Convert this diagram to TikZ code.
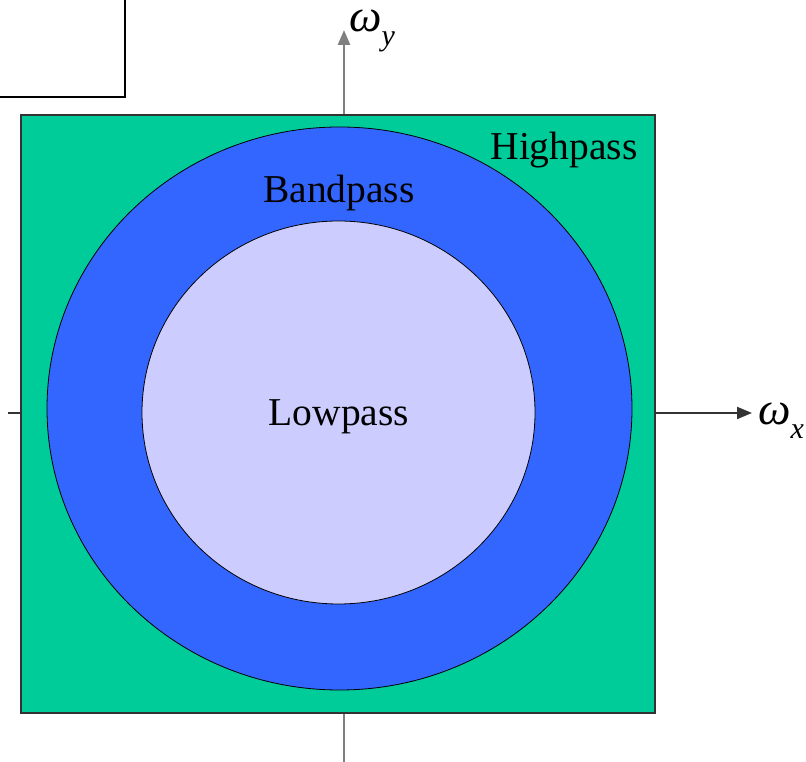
\documentclass[tikz,border=0pt]{standalone}
\usepackage{fontspec}
\setmainfont{Liberation Serif}
\usepackage{xcolor}
\usetikzlibrary{arrows.meta,positioning,calc}

\definecolor{hpgreen}{HTML}{00CC99}
\definecolor{bpblue}{HTML}{3366FF}
\definecolor{lplav}{HTML}{CCCCFF}

\begin{document}
\begin{tikzpicture}[x=1pt,y=1pt,
	bandlabel/.style={font=\fontsize{39.5}{41}\selectfont, anchor=base, inner sep=0pt},
	axislabel/.style={font=\fontsize{46}{48}\selectfont\itshape, anchor=base west, inner sep=0pt},
	axisline/.style={line width=2.5pt, -{Triangle[length=15pt,width=12pt]}}]
		\useasboundingbox (0,0) rectangle (806,762);

		% axes ends
		\coordinate (ybot) at (344,0);
		\coordinate (ytop) at (344,732);
		\coordinate (xleft) at (8,349);
		\coordinate (xright) at (752,349);

		% corner box
		\draw[line width=1.5pt] (0,665) -| (125,762);

		% axes behind the square
		\draw[axisline, draw=black!50, fill=black] (ybot) -- (ytop);
		\draw[axisline, line width=2pt, draw=black!80] (xleft) -- (xright);

		% regions
		\draw[fill=hpgreen, line width=1.2pt, draw=black!80] (21,49) rectangle (655,647);
		\draw[fill=bpblue, line width=0.8pt] (339.5,353.5) ellipse [x radius=292.5, y radius=281.5];
		\draw[fill=lplav, line width=0.8pt] (338.5,349.5) ellipse [x radius=196.5, y radius=191.5];

		\node[bandlabel] (hp) at (564,602) {Highpass};
		\node[bandlabel] (bp) at (339,559) {Bandpass};
		\node[bandlabel] (lp) at (339,336) {Lowpass};

		\node[axislabel] (wy) at ($(ytop)+(5,-2)$) {ω\raisebox{-14pt}{\fontsize{30}{32}\selectfont y}};
		\node[axislabel] (wx) at ($(xright)+(6,-12)$) {ω\raisebox{-14pt}{\fontsize{30}{32}\selectfont x}};
	\end{tikzpicture}
\end{document}
